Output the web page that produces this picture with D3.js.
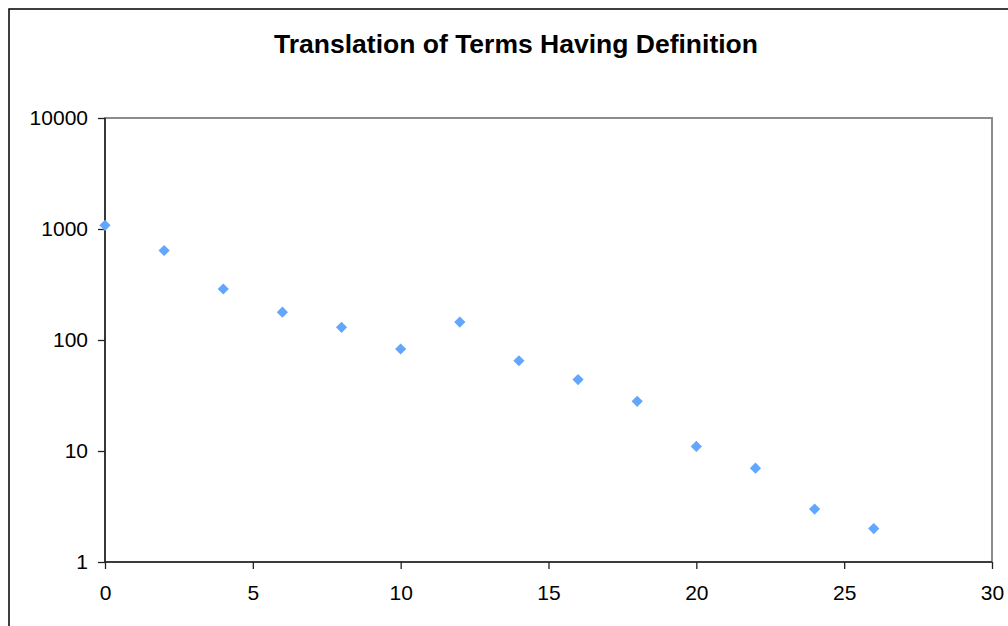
<!DOCTYPE html>
<html>
<head>
<meta charset="utf-8">
<script src="https://cdn.jsdelivr.net/npm/d3@7"></script>
<style>
  html, body { margin: 0; padding: 0; background: #fff; }
  svg { display: block; }
  text { font-family: "Liberation Sans", Arial, sans-serif; fill: #000; }
</style>
</head>
<body>
<svg id="chart" width="1008" height="626"></svg>
<script>
// Number of terms by translation count (log scale)
const xValues = [0, 2, 4, 6, 8, 10, 12, 14, 16, 18, 20, 22, 24, 26];
const yValues = [1080, 640, 288, 178, 130, 83, 145, 65, 44, 28, 11, 7, 3, 2];
const xTicks = [0, 5, 10, 15, 20, 25, 30];
const yTicks = [1, 10, 100, 1000, 10000];
const titleText = "Translation of Terms Having Definition";

const svg = d3.select("#chart");
const plot = { left: 105, top: 118, right: 992, bottom: 562 };

// Outer chart border (extends past the visible page on right/bottom)
svg.append("rect")
  .attr("x", 9).attr("y", 9)
  .attr("width", 1030).attr("height", 640)
  .attr("fill", "#fff")
  .attr("stroke", "#000").attr("stroke-width", 1.5);

svg.append("text")
  .attr("x", 516).attr("y", 53)
  .attr("text-anchor", "middle")
  .attr("font-size", 26.5).attr("font-weight", "bold")
  .text(titleText);

const x = d3.scaleLinear().domain([0, 30]).range([plot.left, plot.right]);
const y = d3.scaleLog().domain([1, 10000]).range([plot.bottom, plot.top]);

// Plot area frame (grey on top and right)
svg.append("rect")
  .attr("x", plot.left).attr("y", plot.top)
  .attr("width", plot.right - plot.left).attr("height", plot.bottom - plot.top)
  .attr("fill", "#fff")
  .attr("stroke", "#8c8c8c").attr("stroke-width", 2);

// Axes
const xAxis = d3.axisBottom(x).tickValues(xTicks).tickSize(7).tickPadding(16)
  .tickFormat(d3.format("d"));
const yAxis = d3.axisLeft(y).tickValues(yTicks).tickSize(7).tickPadding(10)
  .tickFormat(d3.format("d"));

const gx = svg.append("g").attr("transform", `translate(0,${plot.bottom})`).call(xAxis);
const gy = svg.append("g").attr("transform", `translate(${plot.left},0)`).call(yAxis);

[gx, gy].forEach(g => {
  g.select(".domain").attr("stroke", "#222").attr("stroke-width", 1.6)
    .attr("d", g === gx
      ? `M${plot.left},0H${plot.right}`
      : `M0,${plot.top}V${plot.bottom}`);
  g.selectAll(".tick line").attr("stroke", "#222").attr("stroke-width", 1.3);
  g.selectAll(".tick text")
    .attr("font-size", 21)
    .attr("font-family", "'Liberation Sans', Arial, sans-serif")
    .attr("fill", "#000");
});

// Diamond markers
const diamond = d3.symbol().type(d3.symbolDiamond2).size(80);
svg.append("g").selectAll("path")
  .data(xValues.map((v, i) => [v, yValues[i]]))
  .join("path")
  .attr("d", diamond)
  .attr("transform", d => `translate(${x(d[0])},${y(d[1])})`)
  .attr("fill", "#62a6ff");
</script>
</body>
</html>
